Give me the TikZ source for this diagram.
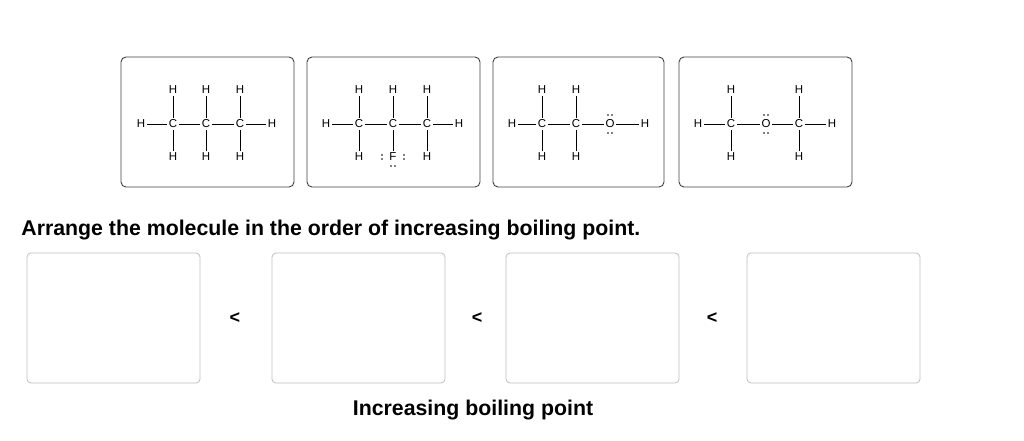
\documentclass[tikz,border=0pt]{standalone}
\usepackage{fontspec}
\setmainfont{Liberation Sans}
\begin{document}
\begin{tikzpicture}[x=1pt, y=-1pt, thick,
    card/.style = {draw=black!75, rounded corners=5pt, line width=0.9pt},
    slot/.style = {draw=black!25, rounded corners=4pt, line width=0.8pt},
    atom/.style = {font=\fontsize{11.5}{11.5}\selectfont, inner sep=1.5pt},
    bond/.style = {line width=0.7pt},
    pair/.style = {fill, circle, inner sep=0pt, minimum size=1.8pt}]
    \useasboundingbox (0,0) rectangle (1024,440);
    % top cards
    \draw[card] (121,57) rectangle (294,187);
    \draw[card] (307,57) rectangle (480,187);
    \draw[card] (493,57) rectangle (664,187);
    \draw[card] (679,57) rectangle (852,187);
    % propane
    \foreach \n/\x in {a/173, b/206, c/240} {
        \node[atom] (p\n) at (\x,124) {C};
        \node[atom] (p\n t) at (\x,90) {H};
        \node[atom] (p\n d) at (\x,157) {H};
        \draw[bond] (p\n) -- (p\n t);
        \draw[bond] (p\n) -- (p\n d);
    }
    \node[atom] (pl) at (141,124) {H};
    \node[atom] (pr) at (272,124) {H};
    \draw[bond] (pl) -- (pa) -- (pb) -- (pc) -- (pr);
    % fluoropropane
    \foreach \n/\x in {a/359, b/393, c/427} {
        \node[atom] (f\n) at (\x,124) {C};
        \node[atom] (f\n t) at (\x,90) {H};
        \draw[bond] (f\n) -- (f\n t);
    }
    \node[atom] (fad) at (359,157) {H};
    \node[atom] (fcd) at (427,157) {H};
    \node[atom] (fF) at (393,157) {F};
    \foreach \dx/\dy in {-11/-2, -11/2, 11/-2, 11/2, -2/9, 2/9}
        \node[pair] at ([shift={(\dx,\dy)}]fF.center) {};
    \draw[bond] (fa) -- (fad);
    \draw[bond] (fc) -- (fcd);
    \draw[bond] (fb) -- (fF);
    \node[atom] (fl) at (326,124) {H};
    \node[atom] (fr) at (459,124) {H};
    \draw[bond] (fl) -- (fa) -- (fb) -- (fc) -- (fr);
    % ethanol
    \foreach \n/\x in {a/542, b/576} {
        \node[atom] (e\n) at (\x,124) {C};
        \node[atom] (e\n t) at (\x,90) {H};
        \node[atom] (e\n d) at (\x,157) {H};
        \draw[bond] (e\n) -- (e\n t);
        \draw[bond] (e\n) -- (e\n d);
    }
    \node[atom] (eo) at (610,124) {O};
    \foreach \dx/\dy in {-2/-9, 2/-9, -2/9, 2/9}
        \node[pair] at ([shift={(\dx,\dy)}]eo.center) {};
    \node[atom] (el) at (512,124) {H};
    \node[atom] (er) at (645,124) {H};
    \draw[bond] (el) -- (ea) -- (eb) -- (eo) -- (er);
    % dimethyl ether
    \foreach \n/\x in {a/731, b/799} {
        \node[atom] (m\n) at (\x,124) {C};
        \node[atom] (m\n t) at (\x,90) {H};
        \node[atom] (m\n d) at (\x,157) {H};
        \draw[bond] (m\n) -- (m\n t);
        \draw[bond] (m\n) -- (m\n d);
    }
    \node[atom] (mo) at (766,124) {O};
    \foreach \dx/\dy in {-2/-9, 2/-9, -2/9, 2/9}
        \node[pair] at ([shift={(\dx,\dy)}]mo.center) {};
    \node[atom] (ml) at (698,124) {H};
    \node[atom] (mr) at (832,124) {H};
    \draw[bond] (ml) -- (ma) -- (mo) -- (mb) -- (mr);
    % question
    \node[anchor=west, font=\fontsize{21.3}{21.3}\selectfont\bfseries, inner sep=0pt] (question) at (21,230) {Arrange the molecule in the order of increasing boiling point.};
    % answer slots
    \draw[slot] (27,253) rectangle (200,383);
    \draw[slot] (272,253) rectangle (445,383);
    \draw[slot] (506,253) rectangle (679,383);
    \draw[slot] (747,253) rectangle (920,383);
    \foreach \x in {235, 477, 712}
        \node[font=\fontsize{18}{18}\selectfont\bfseries] at (\x,318) {<};
    \node[font=\fontsize{21.3}{21.3}\selectfont\bfseries] (axis) at (473,410) {Increasing boiling point};
\end{tikzpicture}
\end{document}
